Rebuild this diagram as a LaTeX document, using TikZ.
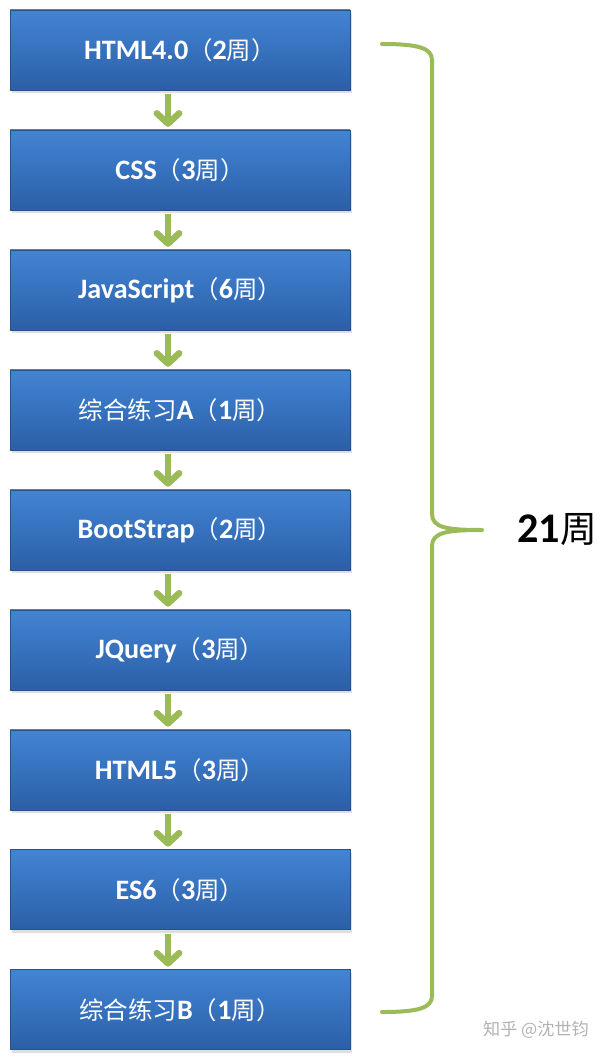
\documentclass[tikz,border=0pt]{standalone}
\usepackage{fontspec}
\setmainfont{Carlito}
\newfontfamily\cjk[Scale=0.87]{Noto Sans CJK SC}
\usetikzlibrary{arrows.meta,positioning,shadows}
\definecolor{boxtop}{HTML}{4284D4}
\definecolor{boxbot}{HTML}{2B5FA7}
\definecolor{leaf}{HTML}{9BBB59}
\newcommand{\zhou}[1]{{\cjk\mdseries （}#1{\cjk\mdseries 周）}}

\begin{document}
\begin{tikzpicture}[
  font=\fontsize{20}{23}\selectfont\bfseries,
  stage/.style={rectangle, minimum width=8.5cm, minimum height=2cm,
                top color=boxtop, bottom color=boxbot, draw=boxbot!85!black,
                line width=0.4pt, text=white, align=center,
                drop shadow={opacity=0.25, shadow xshift=0.04cm, shadow yshift=-0.08cm}},
  down/.style={-{Straight Barb[round,length=2.6mm,width=5.6mm]}, line width=1.6mm,
               leaf, shorten <=0.9mm, shorten >=0.7mm}
]
  \useasboundingbox (0,0) rectangle (15.225,-26.475);
  % stages
  \node[stage] (html4) at (4.5,-1.25) {HTML4.0\zhou{2}};
  \node[stage, below=0.985cm of html4] (css) {CSS\zhou{3}};
  \node[stage, below=0.985cm of css] (js) {JavaScript\zhou{6}};
  \node[stage, below=0.985cm of js] (pa) {{\cjk\mdseries 综合练习}A\zhou{1}};
  \node[stage, below=0.985cm of pa] (bs) {BootStrap\zhou{2}};
  \node[stage, below=0.985cm of bs] (jq) {JQuery\zhou{3}};
  \node[stage, below=0.985cm of jq] (html5) {HTML5\zhou{3}};
  \node[stage, below=0.985cm of html5] (es6) {ES6\zhou{3}};
  \node[stage, below=0.985cm of es6] (pb) {{\cjk\mdseries 综合练习}B\zhou{1}};
  \foreach \a/\b in {html4/css, css/js, js/pa, pa/bs, bs/jq, jq/html5, html5/es6, es6/pb}
    \draw[down] ([xshift=-0.3cm]\a.south) -- ([xshift=-0.3cm]\b.north);
  % brace
  \draw[leaf, line width=1mm, line cap=round]
    (9.55,-1.1) .. controls (10.45,-1.1) and (10.8,-1.2) .. (10.8,-1.5)
    -- (10.8,-12.85) .. controls (10.8,-13.2) and (11.2,-13.25) .. (12.05,-13.25)
    (12.05,-13.25) .. controls (11.2,-13.25) and (10.8,-13.3) .. (10.8,-13.65)
    -- (10.8,-24.9) .. controls (10.8,-25.2) and (10.45,-25.3) .. (9.55,-25.3);
  \node (total) at (13.93,-13.25) {\fontsize{30}{34}\selectfont 21{\cjk\mdseries 周}};
  \node[text=gray!60, font=\fontsize{14}{16}\selectfont] (mark) at (13.4,-25.75) {\cjk 知乎 @沈世钧};
\end{tikzpicture}
\end{document}
